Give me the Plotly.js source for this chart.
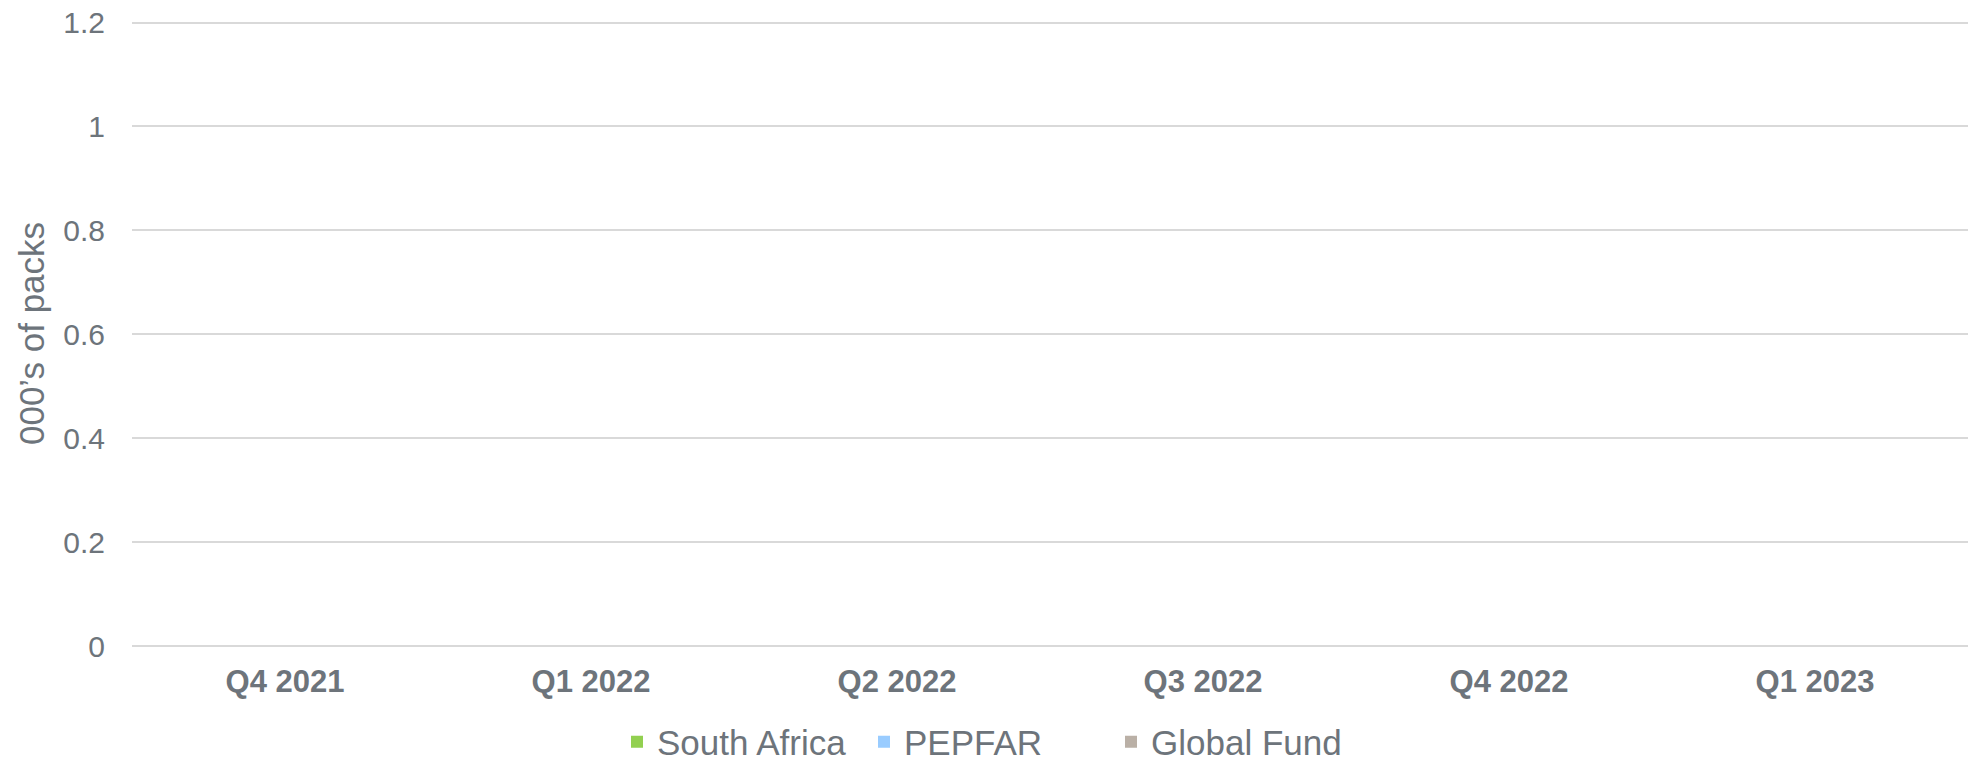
<!DOCTYPE html>
<html>
<head>
<meta charset="utf-8">
<script src="https://cdn.plot.ly/plotly-3.0.1.min.js"></script>
<style>html,body{margin:0;padding:0;background:#fff;}#chart{width:1975px;height:765px;}</style>
</head>
<body>
<div id="chart"></div>
<script>
const categories = ["Q4 2021", "Q1 2022", "Q2 2022", "Q3 2022", "Q4 2022", "Q1 2023"];
const southAfrica = [0, 0, 0, 0, 0, 0];
const pepfar = [0, 0, 0, 0, 0, 0];
const globalFund = [0, 0, 0, 0, 0, 0];
const yTicks = [0, 0.2, 0.4, 0.6, 0.8, 1, 1.2];

const textColor = "#6d747b";
const fontFamily = "Arial, 'Liberation Sans', sans-serif";

const traces = [
  {type: "bar", name: "South Africa", x: categories, y: southAfrica, marker: {color: "#92d050"}},
  {type: "bar", name: "PEPFAR", x: categories, y: pepfar, marker: {color: "#99ccff"}},
  {type: "bar", name: "Global Fund", x: categories, y: globalFund, marker: {color: "#bab0a6"}}
];

const layout = {
  width: 1975, height: 765,
  margin: {l: 132, r: 7, t: 21, b: 119, autoexpand: false},
  paper_bgcolor: "#ffffff", plot_bgcolor: "#ffffff",
  barmode: "stack",
  font: {family: fontFamily, color: textColor, size: 30},
  xaxis: {
    type: "category",
    showgrid: false, zeroline: false, showline: false,
    ticks: "", ticklabelstandoff: 14,
    tickfont: {family: fontFamily, size: 31, color: textColor, weight: "bold"}
  },
  yaxis: {
    range: [0, 1.203], tickvals: yTicks,
    showgrid: true, gridcolor: "#d9d9d9", gridwidth: 2,
    zeroline: true, zerolinecolor: "#d9d9d9", zerolinewidth: 2,
    showline: false, ticks: "", ticklabelstandoff: 26,
    tickfont: {family: fontFamily, size: 30, color: textColor},
    title: {text: "000’s of packs", font: {family: fontFamily, size: 35, color: textColor}, standoff: 8}
  },
  legend: {
    orientation: "h",
    xref: "container", x: 0.5, xanchor: "center",
    yref: "container", y: 0.030, yanchor: "middle",
    font: {family: fontFamily, size: 35, color: textColor},
    itemwidth: 30, entrywidth: 202, entrywidthmode: "pixels", traceorder: "normal"
  },
  showlegend: true
};

Plotly.newPlot("chart", traces, layout, {displayModeBar: false, staticPlot: true});
</script>
</body>
</html>
